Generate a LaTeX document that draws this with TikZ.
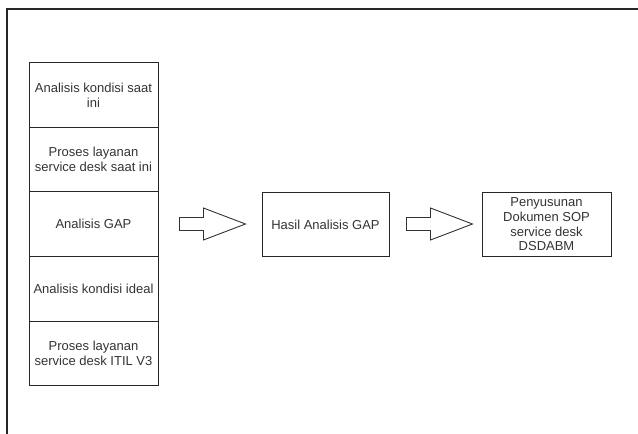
\documentclass[tikz,border=0pt]{standalone}
\usepackage{fontspec}
\setmainfont{Liberation Sans}
\usetikzlibrary{positioning}

\tikzset{
    box/.style={draw=black!85, line width=0.9pt, minimum width=129pt, minimum height=64.6pt,
        inner sep=2pt, align=center, font=\fontsize{13}{15}\selectfont, text=black!80},
    blockarrow/.style={draw=black!80, line width=0.9pt, line join=miter}
}

\begin{document}
\begin{tikzpicture}[x=1pt, y=-1pt]
    \useasboundingbox (0,0) rectangle (638,434);

    % Frame (top and left edges only)
    \draw[black!85, line width=1.4pt] (638,9) -- (7,9) -- (7,434);

    % Left column
    \node[box] (kini) at (93.5,95) {Analisis kondisi saat\\ini};
    \node[box] (prosesKini) at (93.5,159.6) {Proses layanan\\service desk saat ini};
    \node[box] (gap) at (93.5,224.2) {Analisis GAP};
    \node[box] (ideal) at (93.5,288.8) {Analisis kondisi ideal};
    \node[box] (itil) at (93.5,353.4) {Proses layanan\\service desk ITIL V3};

    % Result and output
    \node[box, minimum width=127pt] (hasil) at (325.5,224.5) {Hasil Analisis GAP};
    \node[box, font=\fontsize{13}{14.7}\selectfont] (sop) at (546.5,224.5)
        {Penyusunan\\Dokumen SOP\\service desk\\DSDABM};

    % Block arrows
    \coordinate (a1) at ([xshift=21pt]gap.east |- 0,224);
    \coordinate (a2) at ([xshift=17pt]hasil.east |- 0,224);
    \foreach \a in {a1,a2}
        \draw[blockarrow] (\a) ++(0,-6.5) -- ++(24,0) -- ++(0,-9.5) -- ++(42,16)
            -- ++(-42,16) -- ++(0,-9.5) -- ++(-24,0) -- cycle;
\end{tikzpicture}
\end{document}
